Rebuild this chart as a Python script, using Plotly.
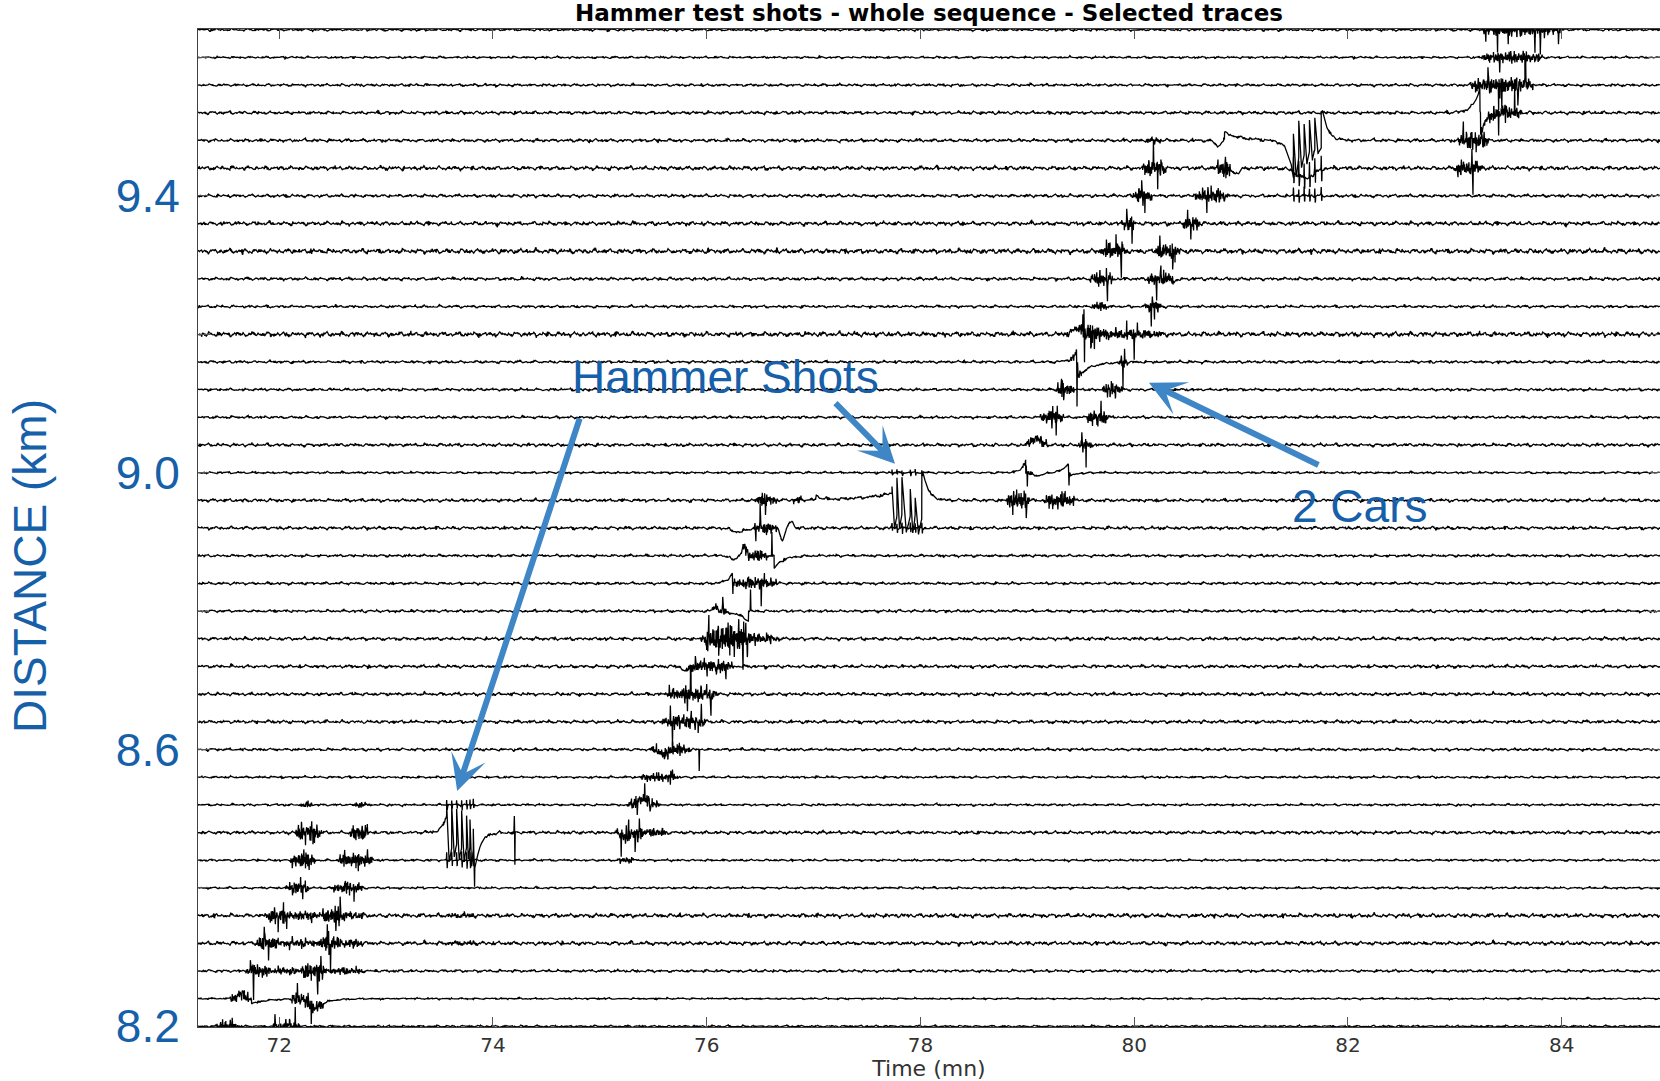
import numpy as np
import plotly.graph_objects as go

# ---------------- text / axes ----------------
TITLE = "Hammer test shots - whole sequence - Selected traces"
X_LABEL = "Time (mn)"
Y_LABEL = "DISTANCE (km)"
X_TICKS = [72, 74, 76, 78, 80, 82, 84]
Y_TICKS = [8.2, 8.6, 9.0, 9.4]
Y_TICK_TEXT = ["8.2", "8.6", "9.0", "9.4"]
Y_MINOR_TICKS = [8.4, 8.8, 9.2, 9.6]
X_RANGE = [71.24, 84.92]
Y_RANGE = [8.199, 9.641]

# ---------------- traces (distance of each receiver, km) ----------------
TRACE_DISTANCE = [8.20, 8.24, 8.28, 8.32, 8.36, 8.40, 8.44, 8.48, 8.52, 8.56,
                  8.60, 8.64, 8.68, 8.72, 8.76, 8.80, 8.84, 8.88, 8.92, 8.96,
                  9.00, 9.04, 9.08, 9.12, 9.16, 9.20, 9.24, 9.28, 9.32, 9.36,
                  9.40, 9.44, 9.48, 9.52, 9.56, 9.60, 9.64]
# background noise level of each trace (amplitude units)
NOISE_LEVEL = [0.8, 0.6, 1.0, 1.4, 1.5, 0.8, 0.8, 1.2, 0.8, 0.8,
               1.0, 1.2, 1.2, 1.2, 1.2, 1.0, 1.0, 1.0, 1.2, 1.2,
               0.8, 1.2, 1.0, 1.0, 1.0, 1.8, 1.0, 1.2, 1.8, 1.5,
               1.2, 1.5, 1.2, 1.2, 1.0, 0.8, 1.0]
AMPLITUDE_UNIT_KM = 0.04 / 27.7   # one amplitude unit expressed in km of offset

# car-passage bursts: (trace km, start mn, end mn, amplitude)
BURSTS = [
    (8.20, 71.40, 71.62, 5), (8.20, 71.93, 72.20, 5),
    (8.24, 71.54, 71.74, 6), (8.24, 72.10, 72.42, 7),
    (8.28, 71.68, 71.92, 7), (8.28, 71.92, 72.20, 3.5), (8.28, 72.20, 72.45, 9), (8.28, 72.45, 72.80, 3.5),
    (8.32, 71.78, 72.00, 8), (8.32, 72.00, 72.36, 4), (8.32, 72.36, 72.58, 9), (8.32, 72.58, 72.80, 4),
    (8.32, 73.55, 73.85, 2),
    (8.36, 71.88, 72.12, 8), (8.36, 72.12, 72.40, 4.5), (8.36, 72.40, 72.64, 9), (8.36, 72.64, 72.80, 3.5),
    (8.36, 73.55, 73.85, 2),
    (8.40, 72.05, 72.28, 6), (8.40, 72.50, 72.78, 6),
    (8.44, 72.10, 72.34, 8), (8.44, 72.55, 72.88, 8), (8.44, 75.16, 75.32, 3),
    (8.48, 72.15, 72.40, 10), (8.48, 72.66, 72.84, 9), (8.48, 75.15, 75.45, 7), (8.48, 75.45, 75.62, 4.5),
    (8.52, 72.20, 72.31, 3), (8.52, 72.69, 72.82, 3), (8.52, 75.25, 75.56, 6),
    (8.56, 75.38, 75.74, 4.5),
    (8.60, 75.48, 75.85, 6),
    (8.64, 75.58, 76.00, 7),
    (8.68, 75.63, 76.10, 7),
    (8.72, 75.80, 76.25, 7),
    (8.76, 75.93, 76.68, 5.5), (8.76, 75.98, 76.42, 10),
    (8.80, 76.05, 76.20, 3.5),
    (8.84, 76.24, 76.66, 6),
    (8.88, 76.32, 76.58, 6),
    (8.92, 76.44, 76.66, 6),
    (8.96, 76.45, 76.66, 6), (8.96, 76.80, 76.90, 4), (8.96, 78.80, 79.02, 10), (8.96, 79.15, 79.45, 8),
    (9.00, 78.95, 79.05, 3),
    (9.04, 78.98, 79.20, 5), (9.04, 79.48, 79.62, 5),
    (9.08, 79.12, 79.34, 8), (9.08, 79.55, 79.76, 7),
    (9.12, 79.26, 79.44, 7), (9.12, 79.70, 79.90, 7),
    (9.16, 79.40, 79.52, 4.5), (9.16, 79.85, 79.95, 4.5),
    (9.20, 79.35, 80.28, 4.5), (9.20, 79.50, 79.70, 8),
    (9.24, 79.60, 79.75, 4.5), (9.24, 80.10, 80.26, 7),
    (9.28, 79.58, 79.80, 7), (9.28, 80.12, 80.38, 7),
    (9.32, 79.67, 79.94, 8), (9.32, 80.20, 80.43, 8),
    (9.36, 79.88, 80.02, 7), (9.36, 80.45, 80.62, 7),
    (9.40, 79.98, 80.17, 7), (9.40, 80.55, 80.88, 7),
    (9.44, 80.07, 80.30, 8), (9.44, 80.77, 80.90, 11), (9.44, 83.00, 83.26, 8),
    (9.48, 80.10, 80.26, 3), (9.48, 83.03, 83.32, 9),
    (9.52, 83.25, 83.63, 7),
    (9.56, 83.13, 83.75, 8),
    (9.60, 83.25, 83.82, 6),
    (9.64, 83.25, 84.00, 7),
]

# sharp spikes: (trace km, time mn, signed amplitude)
SPIKES = [
    (8.20, 71.47, 6), (8.20, 71.56, 9), (8.20, 71.96, 14), (8.20, 72.06, 7), (8.20, 72.10, 8), (8.20, 72.15, 22),
    (8.24, 72.17, 16), (8.24, 72.30, -22),
    (8.28, 71.73, 13), (8.28, 71.76, -20), (8.28, 72.30, -13), (8.28, 72.36, -25), (8.28, 72.39, 17),
    (8.32, 71.86, 17), (8.32, 71.90, -18), (8.32, 72.45, 22), (8.32, 72.48, -24),
    (8.36, 71.99, -19), (8.36, 72.04, 17), (8.36, 72.07, -22), (8.36, 72.53, -19), (8.36, 72.57, 16),
    (8.40, 72.20, 12), (8.40, 72.22, -10), (8.40, 72.64, 8), (8.40, 72.70, -12),
    (8.44, 72.25, 12), (8.44, 72.28, -10), (8.44, 72.72, 12), (8.44, 72.74, -11),
    (8.48, 74.20, 15), (8.48, 74.205, -33), (8.48, 75.20, -25), (8.48, 75.27, 22), (8.48, 75.33, -22), (8.48, 75.37, 15),
    (8.52, 75.35, -10), (8.52, 75.42, 12), (8.52, 75.47, -12),
    (8.56, 75.66, -6), (8.56, 75.68, 10),
    (8.60, 75.68, 15), (8.60, 75.93, -22),
    (8.64, 75.66, 14), (8.64, 75.68, -23), (8.64, 75.92, -10), (8.64, 75.95, 14),
    (8.68, 75.65, 12), (8.68, 75.82, -17), (8.68, 75.85, 19), (8.68, 76.00, 8), (8.68, 76.04, -24),
    (8.72, 75.85, -25), (8.72, 75.90, 10), (8.72, 76.05, 8), (8.72, 76.09, -12), (8.72, 76.18, -12),
    (8.76, 76.01, -15), (8.76, 76.02, 22), (8.76, 76.30, 20), (8.76, 76.34, -14), (8.76, 76.38, -19),
    (8.80, 76.15, 13), (8.80, 76.41, 21),
    (8.84, 76.245, -12), (8.84, 76.48, 8), (8.84, 76.51, -23), (8.84, 76.54, 12),
    (8.88, 76.61, 24),
    (8.92, 76.46, -12), (8.92, 76.50, 18),
    (8.96, 76.52, 8), (8.96, 76.55, -12), (8.96, 78.90, 9), (8.96, 78.99, -16),
    (9.00, 78.99, 8), (9.00, 79.00, -13), (9.00, 79.39, -12),
    (9.04, 79.51, 12), (9.04, 79.55, -24),
    (9.08, 79.27, -16), (9.08, 79.28, 12), (9.08, 79.66, -9), (9.08, 79.69, 13),
    (9.12, 79.32, 13), (9.12, 79.34, -8), (9.12, 79.75, -10),
    (9.16, 79.465, -44), (9.16, 79.895, -27), (9.16, 79.91, 10),
    (9.20, 79.53, 26), (9.20, 79.535, -30), (9.20, 79.93, 14), (9.20, 80.00, -26), (9.20, 80.03, 15),
    (9.24, 80.16, -17), (9.24, 80.17, 13),
    (9.28, 79.74, 10), (9.28, 79.75, -21), (9.28, 80.21, -21), (9.28, 80.25, 19),
    (9.32, 79.83, 18), (9.32, 79.88, -17), (9.32, 80.24, 14), (9.32, 80.36, -17),
    (9.36, 79.93, 15), (9.36, 79.98, -25), (9.36, 80.50, 13), (9.36, 80.53, -23),
    (9.40, 80.07, 16), (9.40, 80.10, -18), (9.40, 80.68, -16), (9.40, 80.72, 12),
    (9.44, 80.18, 26), (9.44, 80.22, -24), (9.44, 83.03, -11), (9.44, 83.16, 16), (9.44, 83.17, -19),
    (9.48, 80.84, 8), (9.48, 83.08, 12), (9.48, 83.20, -12), (9.48, 83.25, 14),
    (9.52, 83.41, -20), (9.52, 83.47, 12), (9.52, 83.56, 22),
    (9.56, 83.31, 15), (9.56, 83.41, -25), (9.56, 83.44, -22), (9.56, 83.59, -20), (9.56, 83.66, 28),
    (9.60, 83.42, -10), (9.60, 83.66, -25), (9.60, 83.78, -5),
    (9.64, 83.29, -12), (9.64, 83.40, -20), (9.64, 83.50, -12), (9.64, 83.75, -25), (9.64, 83.80, -25), (9.64, 83.97, -12),
]

# slow deflections: (trace km, centre mn, signed amplitude, width mn)
BUMPS = [
    (8.24, 71.64, 5, 0.03), (8.24, 72.33, -10, 0.04),
    (8.48, 75.25, -5, 0.04), (8.52, 75.40, 6, 0.05),
    (8.60, 75.60, -5, 0.04), (8.72, 75.80, -5, 0.025), (8.80, 76.08, 5, 0.02),
    (8.88, 76.25, -4, 0.03), (8.88, 76.35, 10, 0.02),
    (8.92, 76.30, -4, 0.06), (8.92, 76.71, -12, 0.02), (8.92, 76.79, 7, 0.02),
    (9.00, 79.10, -3, 0.05), (9.04, 79.08, 7, 0.04), (9.20, 79.45, 3, 0.03),
    (9.44, 80.95, -5, 0.04), (9.44, 81.60, -10, 0.08), (9.48, 80.78, -6, 0.025),
]

# offsets that jump at a time and relax afterwards: (trace km, time mn, amplitude, relaxation mn)
DECAYS = [
    (8.24, 71.74, -5, 0.15), (8.24, 72.38, -6, 0.10), (8.88, 76.63, -13, 0.08),
    (8.96, 77.02, 4, 0.06), (9.00, 79.40, -4, 0.05), (9.16, 79.47, -15, 0.12),
    (9.28, 80.36, -5, 0.03), (9.48, 80.845, 8, 0.15), (9.52, 83.24, -23, 0.05),
]

# offsets that build up before a time and snap back: (trace km, time mn, amplitude, build-up mn)
RISES = [
    (8.80, 76.39, -10, 0.10), (8.84, 76.24, 10, 0.05),
    (9.00, 78.985, 12, 0.04), (9.00, 79.385, 10, 0.05),
    (9.16, 79.46, 9, 0.05), (9.20, 79.52, 8, 0.05), (9.52, 83.235, 25, 0.06),
]

# hammer shot sequences
HAMMER_TRACE = [8.48, 8.96, 9.48]
HAMMER_TIMES = [[73.567, 73.614, 73.660, 73.707, 73.753, 73.785, 73.816],
                [77.734, 77.780, 77.827, 77.905, 77.951, 78.013],
                [81.49, 81.54, 81.59, 81.64, 81.69, 81.75]]
HAMMER_PEAKS = [[28, 28, 23, 22, 17, 13, 3],
                [14, 23, 23, 11, 2, 28],
                [7, 18, 17, 20, 22, 30]]
HAMMER_TROUGHS = [[-30, -25, -28, -28, -28, -35, -55],
                  [-29, -29, -32, -32, -34, 28],
                  [-37, -28, -23, -20, -13, 30]]
HAMMER_PRE = [(18, 0.04), (7, 0.30), (-37, 0.05)]      # (level before first shot, build-up mn)
HAMMER_END = [(-38, 0.05), (28, 0.05), (30, 0.05)]     # (level after last shot, relaxation mn)
HAMMER_NEIGHBOURS = [[(8.44, 8), (8.52, 5)],
                     [(8.92, 5), (9.00, 3)],
                     [(9.44, 15), (9.40, 8)]]

# ---------------- annotation text ----------------
NOTE_HAMMER = "Hammer Shots"
NOTE_CARS = "2 Cars"

BLUE_TEXT = "#1660A9"
BLUE_ARROW = "#3F86C6"

# ---------------- build waveforms ----------------
T_BASE = np.arange(X_RANGE[0], X_RANGE[1] + 1e-9, 0.002)
NOISE_FREQ = [7.3, 12.9, 21.7, 37.1, 71.3]
NOISE_W = [0.45, 0.40, 0.35, 0.25, 0.20]
BURST_FREQ = [23.3, 41.9, 61.7, 97.3, 143.9, 211.1]
BURST_W = [0.35, 0.35, 0.45, 0.45, 0.40, 0.35]


def same(a, b):
    return abs(a - b) < 1e-6


def hammer_wave(t, T, P, Q, pre, end):
    out = np.zeros_like(t)
    T = np.asarray(T, dtype=float)
    m = t < T[0]
    out[m] = pre[0] * np.exp((t[m] - T[0]) / pre[1])
    for i in range(len(T) - 1):
        m = (t >= T[i]) & (t < T[i + 1])
        u = (t[m] - T[i]) / (T[i + 1] - T[i])
        v = np.where(u < 0.5,
                     P[i] + (Q[i] - P[i]) * (u / 0.5),
                     Q[i] + (0.5 * Q[i] - Q[i]) * ((u - 0.5) / 0.5))
        out[m] = v
    w = 0.012
    tl = T[-1]
    m = (t >= tl) & (t < tl + w)
    out[m] = P[-1] + (Q[-1] - P[-1]) * (t[m] - tl) / w
    m = t >= tl + w
    out[m] = end[0] * np.exp(-(t[m] - tl - w) / end[1])
    return out


fig = go.Figure()

for k, dist in enumerate(TRACE_DISTANCE):
    extra = [s[1] for s in SPIKES if same(s[0], dist)]
    for h, d in enumerate(HAMMER_TRACE):
        if same(d, dist):
            extra += HAMMER_TIMES[h]
        for nd, _ in HAMMER_NEIGHBOURS[h]:
            if same(nd, dist):
                extra += HAMMER_TIMES[h]
    t = np.union1d(T_BASE, np.array(extra)) if extra else T_BASE.copy()

    sig = np.zeros_like(t)
    for j, (f, w) in enumerate(zip(NOISE_FREQ, NOISE_W)):
        sig += NOISE_LEVEL[k] * w * np.sin(2 * np.pi * f * t + (1.37 * k + 2.11 * j))
    # small sharp blips that give the recorded traces their dotted look
    blip = np.sin(2 * np.pi * 3.1 * t + 0.7 * k) ** 31 + np.sin(2 * np.pi * 4.7 * t + 1.9 * k) ** 31
    sig += 0.8 * NOISE_LEVEL[k] * blip * np.sin(2 * np.pi * 180.0 * t)

    for d, t0, t1, a in BURSTS:
        if not same(d, dist):
            continue
        u = (t - t0) / (t1 - t0)
        m = (u > 0) & (u < 1)
        tm = t[m]
        env = np.sin(np.pi * u[m]) ** 0.35
        env *= 0.65 + 0.35 * np.sin(2 * np.pi * 17.3 * tm + 2.3 * k) * np.sin(2 * np.pi * 9.1 * tm + 0.5 * k)
        car = np.zeros(m.sum())
        for j, (f, w) in enumerate(zip(BURST_FREQ, BURST_W)):
            car += w * np.sin(2 * np.pi * f * tm + (0.9 * k + 1.7 * j + t0))
        sig[m] += a * env * car

    for d, ts, a in SPIKES:
        if same(d, dist):
            sig += a * np.clip(1 - np.abs(t - ts) / 0.003, 0, None)

    for d, tc, a, s in BUMPS:
        if same(d, dist):
            sig += a * np.exp(-0.5 * ((t - tc) / s) ** 2)

    for d, ts, a, tau in DECAYS:
        if same(d, dist):
            m = t >= ts
            sig[m] += a * np.exp(-(t[m] - ts) / tau)

    for d, ts, a, tau in RISES:
        if same(d, dist):
            m = t < ts
            sig[m] += a * np.exp((t[m] - ts) / tau)

    for h, d in enumerate(HAMMER_TRACE):
        if same(d, dist):
            sig += hammer_wave(t, HAMMER_TIMES[h], HAMMER_PEAKS[h], HAMMER_TROUGHS[h],
                               HAMMER_PRE[h], HAMMER_END[h])
        for nd, na in HAMMER_NEIGHBOURS[h]:
            if same(nd, dist):
                for ts in HAMMER_TIMES[h]:
                    sig += na * np.clip(1 - np.abs(t - ts) / 0.003, 0, None)
                    sig -= na * np.clip(1 - np.abs(t - ts - 0.005) / 0.003, 0, None)

    fig.add_trace(go.Scatter(
        x=t, y=dist + sig * AMPLITUDE_UNIT_KM, mode="lines",
        line=dict(color="black", width=1.3), hoverinfo="skip", showlegend=False))

# ---------------- layout ----------------
fig.update_layout(
    width=1660, height=1081,
    margin=dict(l=198, r=0, t=29, b=54, autoexpand=False),
    paper_bgcolor="white", plot_bgcolor="white",
    title=dict(text=TITLE, x=0.5, xref="paper", xanchor="center",
               y=1 - 13 / 1081, yref="container", yanchor="middle",
               font=dict(family="DejaVu Sans", size=23, color="black", weight="bold")),
    showlegend=False,
)
fig.update_xaxes(
    range=X_RANGE, tickvals=X_TICKS, ticktext=[str(v) for v in X_TICKS],
    ticks="inside", ticklen=10, tickcolor="#555555", tickwidth=1,
    showline=True, linecolor="#404040", linewidth=1, mirror="ticks",
    showgrid=False, zeroline=False,
    tickfont=dict(family="DejaVu Sans", size=20, color="#333333"),
    title=dict(text=X_LABEL, standoff=2,
               font=dict(family="DejaVu Sans", size=22, color="#333333")),
)
fig.update_yaxes(
    range=Y_RANGE, tickvals=Y_TICKS, ticktext=Y_TICK_TEXT,
    ticks="inside", ticklen=12, tickcolor="#555555", tickwidth=1,
    minor=dict(tickvals=Y_MINOR_TICKS, ticks="inside", ticklen=12, tickcolor="#555555"),
    showline=True, linecolor="#404040", linewidth=1, mirror="ticks",
    showgrid=False, zeroline=False,
    tickfont=dict(family="Liberation Sans", size=46, color=BLUE_TEXT),
    ticklabelstandoff=8,
)

# y-axis title (placed like the overlaid label of the original slide)
fig.add_annotation(text=Y_LABEL, xref="paper", yref="paper", x=-0.1149, y=0.462,
                   textangle=-90, showarrow=False, xanchor="center", yanchor="middle",
                   font=dict(family="Liberation Sans", size=46, color=BLUE_TEXT))
fig.add_annotation(text=NOTE_HAMMER, xref="paper", yref="paper", x=0.3609, y=0.6513,
                   showarrow=False, xanchor="center", yanchor="middle",
                   font=dict(family="Liberation Sans", size=46, color=BLUE_TEXT))
fig.add_annotation(text=NOTE_CARS, xref="paper", yref="paper", x=0.7942, y=0.522,
                   showarrow=False, xanchor="center", yanchor="middle",
                   font=dict(family="Liberation Sans", size=46, color=BLUE_TEXT))

# arrows pointing at the hammer shots and at the cars (head in data coordinates, tail offset in px)
ARROWS = [(73.665, 8.540, 123, -374), (77.762, 9.013, -61, -62), (80.138, 9.130, 171, 83)]
for xh, yh, ax, ay in ARROWS:
    fig.add_annotation(x=xh, y=yh, xref="x", yref="y", ax=ax, ay=ay, text="",
                       showarrow=True, arrowhead=3, arrowsize=1.0, arrowwidth=6,
                       arrowcolor=BLUE_ARROW, standoff=0)

fig.write_html("out.html")
